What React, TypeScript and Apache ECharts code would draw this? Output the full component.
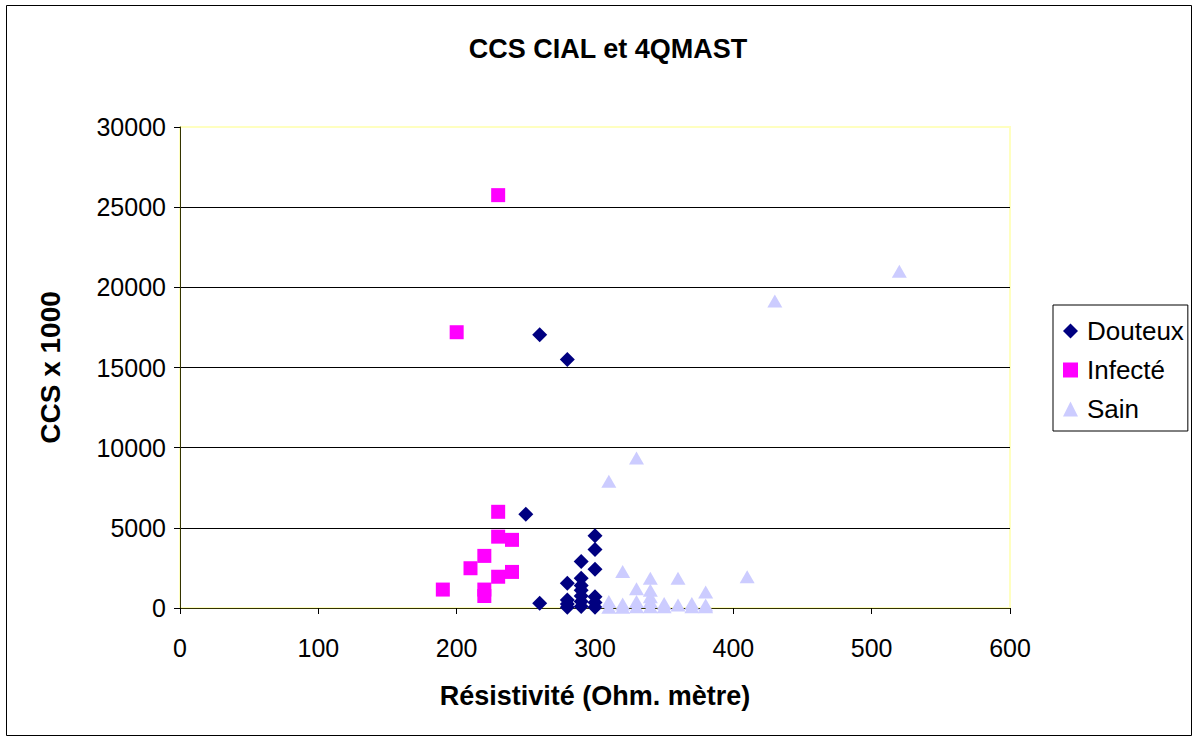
import React, { useEffect, useRef } from "react";
import * as echarts from "echarts";

const titleText = "CCS CIAL et 4QMAST";
const xAxisName = "Résistivité (Ohm. mètre)";
const yAxisName = "CCS x 1000";
const seriesNames = ["Douteux", "Infecté", "Sain"];

const douteuxRes = [260, 280, 250, 300, 300, 290, 300, 290, 280, 290, 290, 290, 280, 280, 280, 290, 290, 300, 300, 300, 260];
const douteuxCcs = [17050, 15500, 5850, 4500, 3650, 2900, 2420, 1850, 1550, 1400, 1100, 750, 500, 250, 50, 400, 100, 700, 350, 50, 300];

const infecteRes = [230, 200, 230, 230, 240, 220, 210, 240, 230, 190, 220, 220];
const infecteCcs = [25750, 17200, 6000, 4450, 4250, 3250, 2480, 2250, 1950, 1150, 1150, 750];

const sainRes = [520, 430, 330, 310, 320, 340, 360, 410, 330, 340, 380, 340, 310, 320, 330, 340, 350, 360, 370, 380, 310, 330, 350, 370, 380, 340, 320];
const sainCcs = [21000, 19150, 9350, 7900, 2270, 1850, 1850, 1950, 1200, 1100, 1000, 700, 400, 250, 400, 400, 280, 180, 280, 180, 50, 80, 80, 80, 80, 80, 50];

const zip = (xs: number[], ys: number[]) => xs.map((x, i) => [x, ys[i]]);

const FONT = "Liberation Sans, Arial, sans-serif";

export default function App() {
  const ref = useRef<HTMLDivElement>(null);
  useEffect(() => {
    if (!ref.current) return;
    const chart = echarts.init(ref.current, null, { renderer: "svg" });
    chart.setOption({
      animation: false,
      backgroundColor: "#ffffff",
      textStyle: { fontFamily: FONT },
      title: {
        text: titleText,
        left: 603,
        top: 30,
        textAlign: "center",
        textStyle: { fontFamily: FONT, fontSize: 27, fontWeight: "bold", color: "#000" },
      },
      legend: {
        orient: "vertical",
        left: 1053,
        top: 305,
        padding: [13, 4, 9, 10],
        itemGap: 13,
        itemWidth: 15,
        itemHeight: 15,
        borderColor: "#000",
        borderWidth: 1,
        textStyle: { fontFamily: FONT, fontSize: 26, color: "#000", padding: [0, 0, 0, 4] },
        data: [
          { name: seriesNames[0], icon: "diamond" },
          { name: seriesNames[1], icon: "rect" },
          { name: seriesNames[2], icon: "triangle" },
        ],
      },
      grid: {
        left: 180,
        top: 127,
        right: 186,
        bottom: 130,
        show: true,
        borderColor: "#ffffc0",
        borderWidth: 2,
        backgroundColor: "transparent",
      },
      xAxis: {
        type: "value",
        min: 0,
        max: 600,
        interval: 100,
        name: xAxisName,
        nameLocation: "middle",
        nameGap: 74,
        nameTextStyle: { fontFamily: FONT, fontSize: 27, fontWeight: "bold", color: "#000" },
        axisLine: { show: true, lineStyle: { color: "#333300", width: 1 } },
        axisTick: { show: true, inside: false, length: 6, lineStyle: { color: "#000" } },
        axisLabel: { fontFamily: FONT, fontSize: 25, color: "#000", margin: 27 },
        splitLine: { show: false },
      },
      yAxis: {
        type: "value",
        min: 0,
        max: 30000,
        interval: 5000,
        name: yAxisName,
        nameLocation: "middle",
        nameGap: 116,
        nameRotate: 90,
        nameTextStyle: { fontFamily: FONT, fontSize: 28, fontWeight: "bold", color: "#000" },
        axisLine: { show: true, lineStyle: { color: "#333300", width: 1 } },
        axisTick: { show: true, inside: false, length: 6, lineStyle: { color: "#000" } },
        axisLabel: {
          fontFamily: FONT,
          fontSize: 25,
          color: "#000",
          margin: 14,
          formatter: (v: number) => String(v),
        },
        splitLine: {
          show: true,
          lineStyle: { color: ["#000", "#000", "#000", "#000", "#000", "#000", "#ffffc0"], width: 1 },
        },
      },
      series: [
        {
          name: seriesNames[0],
          type: "scatter",
          symbol: "diamond",
          symbolSize: 15,
          itemStyle: { color: "#000080", opacity: 1 },
          data: zip(douteuxRes, douteuxCcs),
          z: 3,
        },
        {
          name: seriesNames[1],
          type: "scatter",
          symbol: "rect",
          symbolSize: 14,
          itemStyle: { color: "#ff00ff", opacity: 1 },
          data: zip(infecteRes, infecteCcs),
          z: 4,
        },
        {
          name: seriesNames[2],
          type: "scatter",
          symbol: "triangle",
          symbolSize: [15, 13],
          itemStyle: { color: "#ccccff", opacity: 1 },
          data: zip(sainRes, sainCcs),
          z: 5,
        },
      ],
      graphic: [
        {
          type: "rect",
          shape: { x: 6.5, y: 5.5, width: 1185, height: 730 },
          style: { fill: "none", stroke: "#000", lineWidth: 1 },
          silent: true,
        },
      ],
    });
    return () => chart.dispose();
  }, []);
  return (
    <div
      ref={ref}
      style={{ position: "absolute", left: 0, top: 0, width: 1196, height: 738 }}
    />
  );
}
